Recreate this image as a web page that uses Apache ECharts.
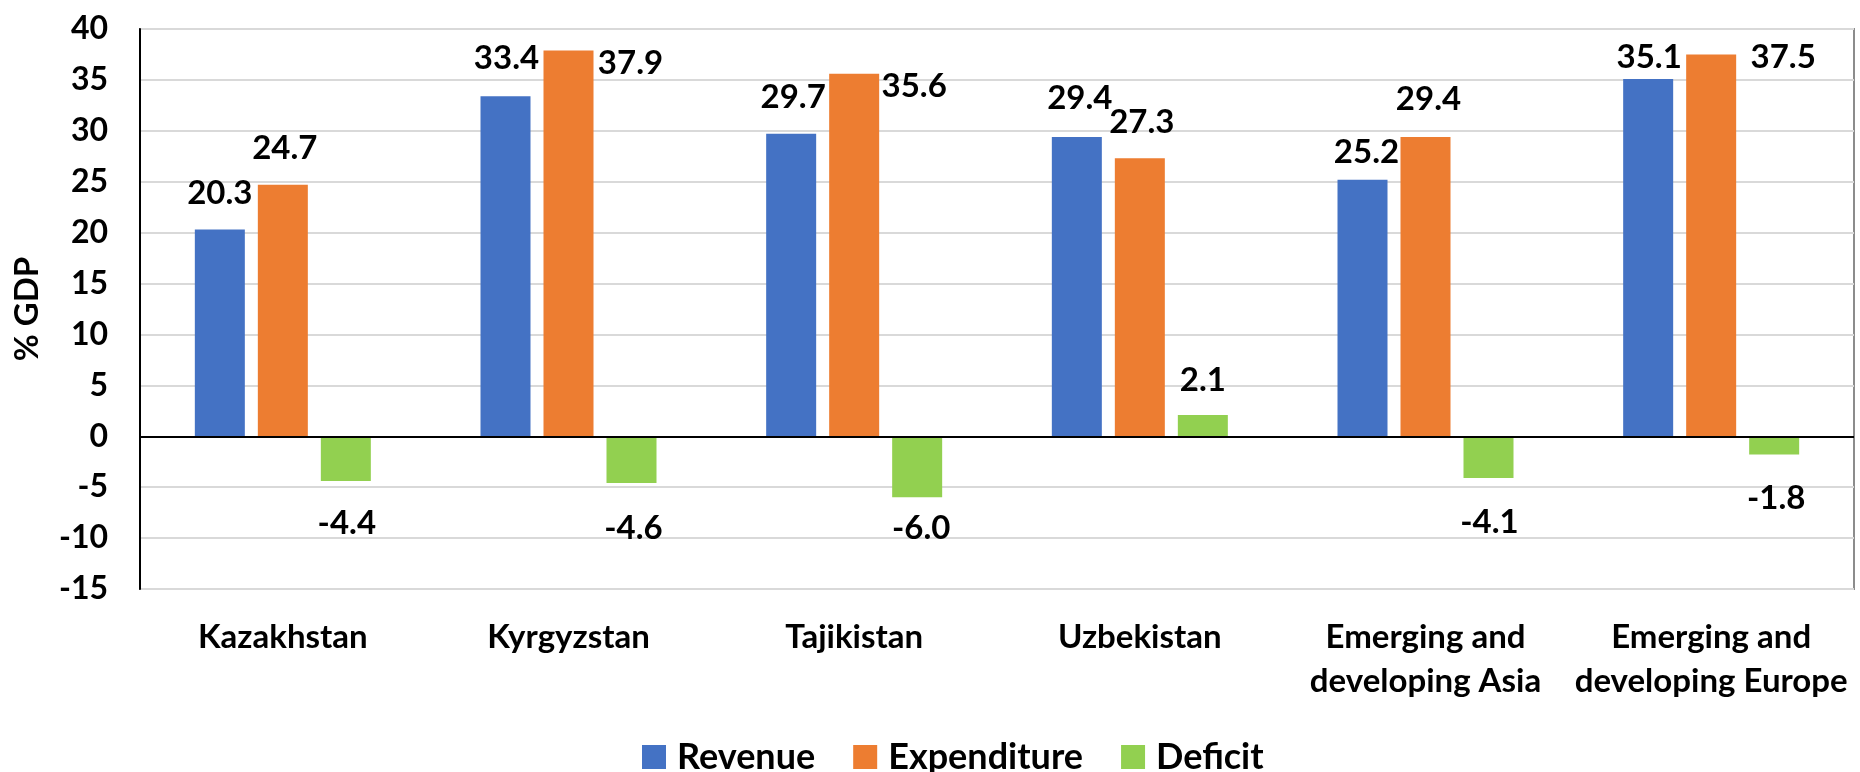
<!DOCTYPE html>
<html>
<head>
<meta charset="utf-8">
<script src="https://cdn.jsdelivr.net/npm/echarts@6/dist/echarts.min.js"></script>
<style>
html, body { margin: 0; padding: 0; background: #fff; }
#container { width: 1860px; height: 772px; }
</style>
</head>
<body>
<div id="container"></div>
<script>
var categories = ['Kazakhstan', 'Kyrgyzstan', 'Tajikistan', 'Uzbekistan', 'Emerging and\ndeveloping Asia', 'Emerging and\ndeveloping Europe'];
var revenue = [20.3, 33.4, 29.7, 29.4, 25.2, 35.1];
var expenditure = [24.7, 37.9, 35.6, 27.3, 29.4, 37.5];
var deficit = [-4.4, -4.6, -6.0, 2.1, -4.1, -1.8];

// label nudges (px, centre of label from end of bar), like the hand-moved labels in the original
var revenueLabelShift = [[0, -36], [1, -38], [2, -37], [3, -39], [4, -27], [1, -22]];
var expenditureLabelShift = [[2, -36], [62, 13], [60, 13], [2, -36], [3, -38], [72, 3]];
var deficitLabelShift = [[1, 42], [2, 45], [4, 31], [0, -35], [1, 44], [2, 44]];

var FONT = 'Lato';

function makeData(values, shifts){
	var out = [];
	for (var i = 0; i < values.length; i++){
		var v = values[i];
		out.push({
			value: v,
			label: {
				position: v >= 0 ? ['50%', 0] : ['50%', '100%'],
				offset: shifts[i],
				align: 'center',
				verticalAlign: 'middle'
			}
		});
	}
	return out;
}

var labelStyle = {
	show: true,
	color: '#000',
	fontFamily: FONT,
	fontWeight: 'bold',
	fontSize: 33,
	formatter: function (p){ return p.value.toFixed(1); }
};

var myChart = echarts.init(document.getElementById('container'));
var option = {
	backgroundColor: '#fff',
	animation: false,
	grid: {
		left: 140, right: 6, top: 29, bottom: 183,
		show: true, borderColor: '#8c8c8c', borderWidth: 2
	},
	legend: {
		top: 734,
		left: 637,
		itemWidth: 24,
		itemHeight: 24,
		itemGap: 38,
		icon: 'rect',
		textStyle: { fontFamily: FONT, fontWeight: 'bold', fontSize: 36, color: '#000', padding: [0, 0, 0, 6] },
		data: ['Revenue', 'Expenditure', 'Deficit']
	},
	xAxis: {
		type: 'category',
		data: categories,
		axisLine: { show: false, onZero: false },
		axisTick: { show: false },
		axisLabel: {
			margin: 26,
			interval: 0,
			color: '#000',
			fontFamily: FONT,
			fontWeight: 'bold',
			fontSize: 33,
			lineHeight: 44
		}
	},
	yAxis: {
		type: 'value',
		min: -15,
		max: 40,
		interval: 5,
		name: '% GDP',
		nameLocation: 'middle',
		nameRotate: 90,
		nameGap: 96,
		nameTextStyle: { fontFamily: FONT, fontWeight: 'bold', fontSize: 33, color: '#000' },
		axisLine: { show: true, lineStyle: { color: '#000', width: 2 } },
		axisTick: { show: false },
		axisLabel: { margin: 32, color: '#000', fontFamily: FONT, fontWeight: 'bold', fontSize: 32 },
		splitLine: { lineStyle: { color: '#d9d9d9', width: 2 } }
	},
	series: [
		{
			name: 'Revenue', type: 'bar', barWidth: 50, barGap: '26%',
			itemStyle: { color: '#4472C4' },
			label: labelStyle,
			data: makeData(revenue, revenueLabelShift),
			markLine: {
				silent: true, symbol: 'none',
				label: { show: false },
				lineStyle: { color: '#000', width: 2, type: 'solid' },
				data: [{ yAxis: 0 }]
			}
		},
		{
			name: 'Expenditure', type: 'bar', barWidth: 50, barGap: '26%',
			itemStyle: { color: '#ED7D31' },
			label: labelStyle,
			data: makeData(expenditure, expenditureLabelShift)
		},
		{
			name: 'Deficit', type: 'bar', barWidth: 50, barGap: '26%',
			itemStyle: { color: '#92D050' },
			label: labelStyle,
			data: makeData(deficit, deficitLabelShift)
		}
	]
};
myChart.setOption(option, true);
</script>
</body>
</html>
